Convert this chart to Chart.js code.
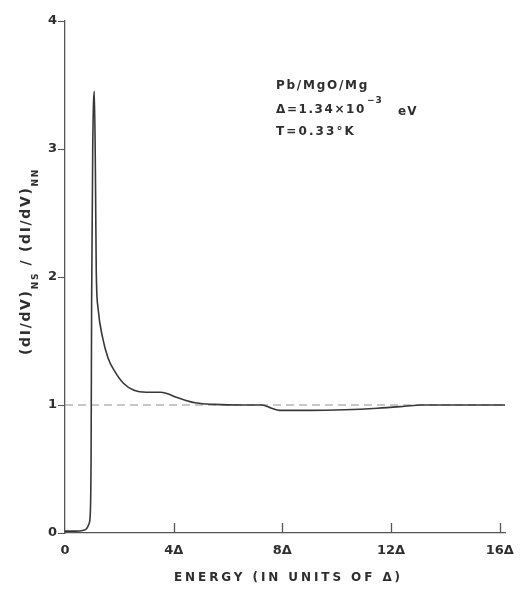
<!DOCTYPE html>
<html><head><meta charset="utf-8">
<script src="https://cdn.jsdelivr.net/npm/chart.js@4/dist/chart.umd.min.js"></script>
<style>html,body{margin:0;padding:0;background:#fff}#wrap{width:524px;height:592px}</style>
</head><body><div id="wrap"><canvas id="c" width="524" height="592"></canvas></div>
<script>
// ---- data ----
const energy = [0, 0.4, 0.65, 0.8, 0.88, 0.93, 0.96, 0.98, 1.02, 1.08, 1.12, 1.15, 1.22, 1.38, 1.58, 1.81, 2.15, 2.54, 3.0, 3.5, 3.75, 4.1, 4.45, 4.84, 5.5, 6.5, 7.25, 7.6, 7.9, 9.0, 10.3, 11.5, 12.5, 13.1, 14.0, 16.2];
const ratio  = [0.015, 0.015, 0.02, 0.035, 0.07, 0.15, 0.6, 1.8, 3.0, 3.45, 2.8, 2.05, 1.75, 1.53, 1.37, 1.27, 1.17, 1.115, 1.1, 1.1, 1.09, 1.06, 1.035, 1.015, 1.005, 1.0, 1.0, 0.975, 0.958, 0.958, 0.963, 0.975, 0.99, 1.0, 1.0, 1.0];
const refEnergy = [0, 16.2];
const refRatio = [1, 1];
const xTickValues = [0, 4, 8, 12, 16];
const xTickLabels = ['0', '4Δ', '8Δ', '12Δ', '16Δ'];
const yTickValues = [0, 1, 2, 3, 4];
const yTickLabels = ['0', '1', '2', '3', '4'];
const xTitle = 'ENERGY (IN UNITS OF Δ)';
const yTitleParts = [['(dI/dV)', false], ['NS', true], [' / ', false], ['(dI/dV)', false], ['NN', true]];
const noteLine1 = 'Pb/MgO/Mg';
const noteLine2 = ['Δ=1.34×10', '−3', 'eV'];
const noteLine3 = 'T=0.33°K';

const ink = '#2e2e2e';
const fontFam = '"DejaVu Sans", sans-serif';

function fitSpacing(ctx, text, target) {
  ctx.letterSpacing = '0px';
  const w = ctx.measureText(text).width;
  return Math.max(0, (target - w) / text.length);
}

const textPlugin = {
  id: 'texts',
  afterDraw(chart) {
    const ctx = chart.ctx;
    const xs = chart.scales.x, area = chart.chartArea;
    ctx.save();
    // inside x ticks
    ctx.strokeStyle = '#555'; ctx.lineWidth = 1.3;
    xTickValues.forEach(v => {
      if (v === 0) return;
      const px = Math.round(xs.getPixelForValue(v)) + 0.5;
      ctx.beginPath(); ctx.moveTo(px, area.bottom); ctx.lineTo(px, area.bottom - 10); ctx.stroke();
    });
    ctx.fillStyle = ink;
    // x title
    ctx.font = 'bold 12px ' + fontFam;
    ctx.letterSpacing = fitSpacing(ctx, xTitle, 229) + 'px';
    ctx.textAlign = 'left'; ctx.textBaseline = 'middle';
    ctx.fillText(xTitle, 174, 578);
    // y title (rotated)
    ctx.translate(26, 355); ctx.rotate(-Math.PI / 2);
    ctx.textAlign = 'left';
    const mainF = 'bold 14px ' + fontFam, subF = 'bold 9px ' + fontFam;
    let w0 = 0, n = 0;
    ctx.letterSpacing = '0px';
    yTitleParts.forEach(([t, sub]) => { ctx.font = sub ? subF : mainF; w0 += ctx.measureText(t).width; n += t.length; });
    ctx.letterSpacing = Math.max(0, (187 - w0) / n) + 'px';
    let cx = 0;
    yTitleParts.forEach(([t, sub]) => {
      ctx.font = sub ? subF : mainF;
      ctx.fillText(t, cx, sub ? 10 : 0);
      cx += ctx.measureText(t).width;
    });
    ctx.setTransform(1, 0, 0, 1, 0, 0);
    // notes
    ctx.textAlign = 'left'; ctx.textBaseline = 'middle';
    ctx.font = 'bold 12px ' + fontFam;
    ctx.letterSpacing = fitSpacing(ctx, noteLine1, 93) + 'px';
    ctx.fillText(noteLine1, 276, 86);
    ctx.letterSpacing = fitSpacing(ctx, noteLine2[0], 90) + 'px';
    ctx.fillText(noteLine2[0], 276, 110);
    ctx.font = 'bold 9px ' + fontFam;
    ctx.letterSpacing = '1px';
    ctx.fillText(noteLine2[1], 367, 101);
    ctx.font = 'bold 12px ' + fontFam;
    ctx.letterSpacing = '1px';
    ctx.fillText(noteLine2[2], 398, 112);
    ctx.letterSpacing = fitSpacing(ctx, noteLine3, 80) + 'px';
    ctx.fillText(noteLine3, 276, 132);
    ctx.restore();
  }
};

new Chart(document.getElementById('c'), {
  type: 'scatter',
  data: {
    datasets: [
      {
        data: energy.map((x, i) => ({ x, y: ratio[i] })),
        showLine: true, borderColor: '#383838', borderWidth: 1.6,
        pointRadius: 0, fill: false, cubicInterpolationMode: 'monotone', order: 0
      },
      {
        data: refEnergy.map((x, i) => ({ x, y: refRatio[i] })),
        showLine: true, borderColor: '#8f8f8f', borderWidth: 1.2, borderDash: [8, 5],
        pointRadius: 0, fill: false, order: 1
      }
    ]
  },
  options: {
    responsive: false, animation: false,
    layout: { padding: { top: 21, right: 13, left: 0, bottom: 0 } },
    plugins: { legend: { display: false }, tooltip: { enabled: false } },
    scales: {
      x: {
        type: 'linear', min: 0, max: 16.2,
        afterBuildTicks: s => { s.ticks = xTickValues.map(v => ({ value: v })); },
        afterFit: s => { s.height = 59; },
        ticks: {
          callback: v => xTickLabels[xTickValues.indexOf(v)],
          font: { family: fontFam, size: 13, weight: 'bold' }, color: ink,
          padding: 10, maxRotation: 0, autoSkip: false
        },
        grid: { drawOnChartArea: false, drawTicks: false },
        border: { display: true, color: '#555', width: 1.3 }
      },
      y: {
        type: 'linear', min: 0, max: 4,
        afterBuildTicks: s => { s.ticks = yTickValues.map(v => ({ value: v })); },
        afterFit: s => { s.width = 65; },
        ticks: {
          callback: v => yTickLabels[yTickValues.indexOf(v)],
          font: { family: fontFam, size: 13, weight: 'bold' }, color: ink,
          padding: 1, autoSkip: false
        },
        grid: { drawOnChartArea: false, drawTicks: true, tickLength: 7, color: '#555' },
        border: { display: true, color: '#555', width: 1.3 }
      }
    }
  },
  plugins: [textPlugin]
});
</script>
</body></html>
